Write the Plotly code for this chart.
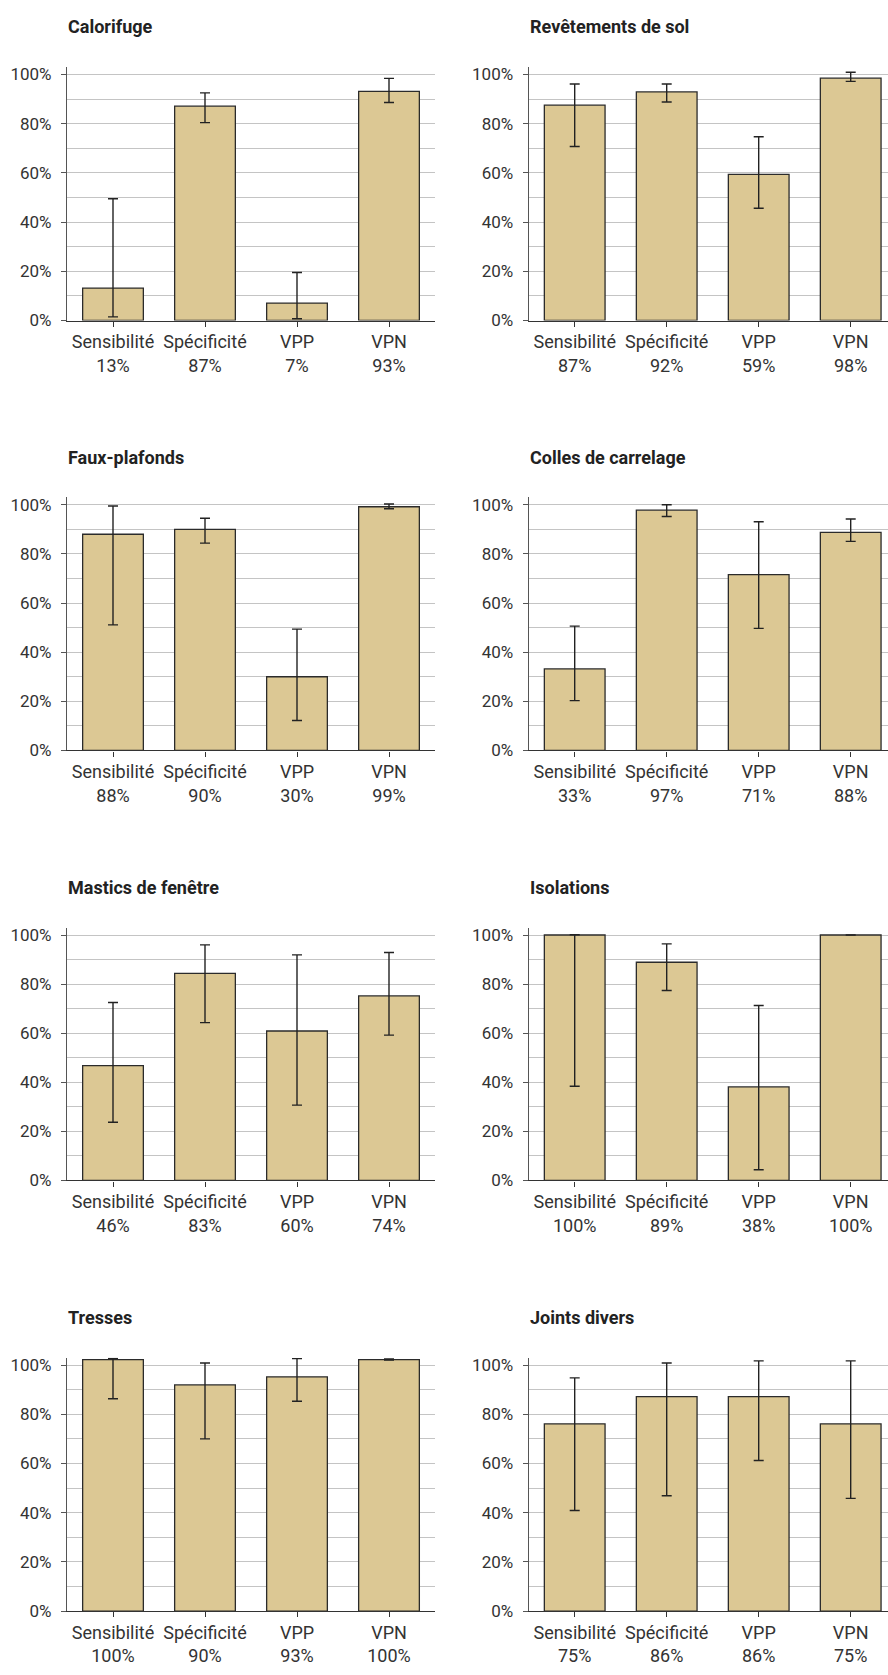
import plotly.graph_objects as go

W, H = 888, 1675

categories = ["Sensibilité", "Spécificité", "VPP", "VPN"]
titles = ["Calorifuge", "Revêtements de sol", "Faux-plafonds", "Colles de carrelage",
          "Mastics de fenêtre", "Isolations", "Tresses", "Joints divers"]

# displayed percentages (tick labels)
pct_calorifuge = [13, 87, 7, 93]
pct_revetements = [87, 92, 59, 98]
pct_fauxplafonds = [88, 90, 30, 99]
pct_colles = [33, 97, 71, 88]
pct_mastics = [46, 83, 60, 74]
pct_isolations = [100, 89, 38, 100]
pct_tresses = [100, 90, 93, 100]
pct_joints = [75, 86, 86, 75]

# bar heights as drawn (fraction)
val_calorifuge = [0.132, 0.871, 0.071, 0.931]
val_revetements = [0.875, 0.929, 0.594, 0.985]
val_fauxplafonds = [0.880, 0.900, 0.300, 0.992]
val_colles = [0.332, 0.978, 0.716, 0.888]
val_mastics = [0.468, 0.844, 0.609, 0.752]
val_isolations = [1.000, 0.889, 0.381, 1.000]
val_tresses = [1.022, 0.919, 0.952, 1.022]
val_joints = [0.761, 0.872, 0.872, 0.761]

# confidence interval bounds (fraction); None = no error bar drawn
low_calorifuge = [0.015, 0.804, 0.007, 0.886]
high_calorifuge = [0.495, 0.925, 0.195, 0.984]
low_revetements = [0.707, 0.888, 0.456, 0.972]
high_revetements = [0.961, 0.961, 0.747, 1.009]
low_fauxplafonds = [0.511, 0.844, 0.122, 0.984]
high_fauxplafonds = [0.995, 0.945, 0.494, 1.003]
low_colles = [0.203, 0.952, 0.497, 0.851]
high_colles = [0.506, 1.000, 0.931, 0.942]
low_mastics = [0.237, 0.643, 0.307, 0.592]
high_mastics = [0.725, 0.960, 0.919, 0.929]
low_isolations = [0.384, 0.774, 0.044, None]
high_isolations = [1.001, 0.964, 0.713, None]
low_tresses = [0.863, 0.700, 0.853, 1.020]
high_tresses = [1.027, 1.008, 1.026, 1.025]
low_joints = [0.409, 0.469, 0.612, 0.458]
high_joints = [0.948, 1.008, 1.017, 1.017]

panels = [
    (pct_calorifuge, val_calorifuge, low_calorifuge, high_calorifuge),
    (pct_revetements, val_revetements, low_revetements, high_revetements),
    (pct_fauxplafonds, val_fauxplafonds, low_fauxplafonds, high_fauxplafonds),
    (pct_colles, val_colles, low_colles, high_colles),
    (pct_mastics, val_mastics, low_mastics, high_mastics),
    (pct_isolations, val_isolations, low_isolations, high_isolations),
    (pct_tresses, val_tresses, low_tresses, high_tresses),
    (pct_joints, val_joints, low_joints, high_joints),
]

y_ticks = [0, 0.2, 0.4, 0.6, 0.8, 1.0]
y_ticktext = ["0%", "20%", "40%", "60%", "80%", "100%"]

# layout geometry (pixels)
row_y100 = [72, 505.7, 939.3, 1372.7]
row_y0 = [320, 753.3, 1186.7, 1620.7]
col_x0 = [67, 528.7]
col_x1 = [435, 888]
cat_w = 92.0
YMAX = 1.03

FONT = "Roboto"
bar_color = "#dcc894"
edge_color = "#2b2b2b"
grid_color = "#c4c4c4"

fig = go.Figure()
layout = dict(
    width=W, height=H,
    margin=dict(l=0, r=0, t=0, b=0),
    paper_bgcolor="white", plot_bgcolor="white",
    showlegend=False,
    bargap=0.34,
    font=dict(family=FONT, size=17, color="#333333"),
    annotations=[],
)

for i, (pct, vals, lo, hi) in enumerate(panels):
    r, c = divmod(i, 2)
    n = i + 1
    xa = "x" if n == 1 else f"x{n}"
    ya = "y" if n == 1 else f"y{n}"
    ticktext = [f"{cat}<br>{p}%" for cat, p in zip(categories, pct)]
    up = [None if h is None else max(h - v, 0) for h, v in zip(hi, vals)]
    down = [None if l is None else max(v - l, 0) for l, v in zip(lo, vals)]
    fig.add_trace(go.Bar(
        x=list(range(4)), y=vals, xaxis=xa, yaxis=ya,
        marker=dict(color=bar_color, line=dict(color=edge_color, width=1.3)),
        error_y=dict(type="data", symmetric=False, array=up, arrayminus=down,
                     color="#222222", thickness=1.4, width=5),
        hoverinfo="skip",
    ))
    x0 = col_x0[c]
    x1 = col_x1[c]
    xmax = -0.5 + (x1 - x0) / cat_w
    ytop = row_y100[r] - (YMAX - 1.0) * (row_y0[r] - row_y100[r])
    ybot = row_y0[r]
    xkey = "xaxis" if n == 1 else f"xaxis{n}"
    ykey = "yaxis" if n == 1 else f"yaxis{n}"
    layout[xkey] = dict(
        domain=[x0 / W, x1 / W], anchor=ya, range=[-0.5, xmax],
        tickmode="array", tickvals=list(range(4)), ticktext=ticktext,
        showline=True, linecolor="#333333", linewidth=1.3,
        ticks="outside", tickson="boundaries", ticklen=5, tickcolor="#333333", tickwidth=1.2,
        showgrid=False, zeroline=False, fixedrange=True,
        tickfont=dict(family=FONT, size=18, color="#333333"),
    )
    layout[ykey] = dict(
        domain=[1 - ybot / H, 1 - ytop / H], anchor=xa, range=[0, YMAX],
        tickmode="array", tickvals=y_ticks, ticktext=y_ticktext,
        showline=True, linecolor="#555555", linewidth=1.2,
        ticks="outside", ticklen=5, tickcolor="#555555", tickwidth=1.2,
        ticklabelstandoff=6,
        showgrid=True, gridcolor=grid_color, gridwidth=1,
        minor=dict(tickmode="array", tickvals=[0.1, 0.3, 0.5, 0.7, 0.9], showgrid=True,
                   gridcolor=grid_color, gridwidth=1, ticks=""),
        zeroline=False, fixedrange=True,
        tickfont=dict(family=FONT, size=17, color="#333333"),
    )
    layout["annotations"].append(dict(
        text=f"<b>{titles[i]}</b>", xref="paper", yref="paper",
        x=(x0 - 1) / W, y=1 - (row_y100[r] - 48) / H,
        xanchor="left", yanchor="middle", showarrow=False,
        font=dict(family=FONT, size=18, color="#222222"),
    ))

fig.update_layout(**layout)
fig.write_html("out.html")
